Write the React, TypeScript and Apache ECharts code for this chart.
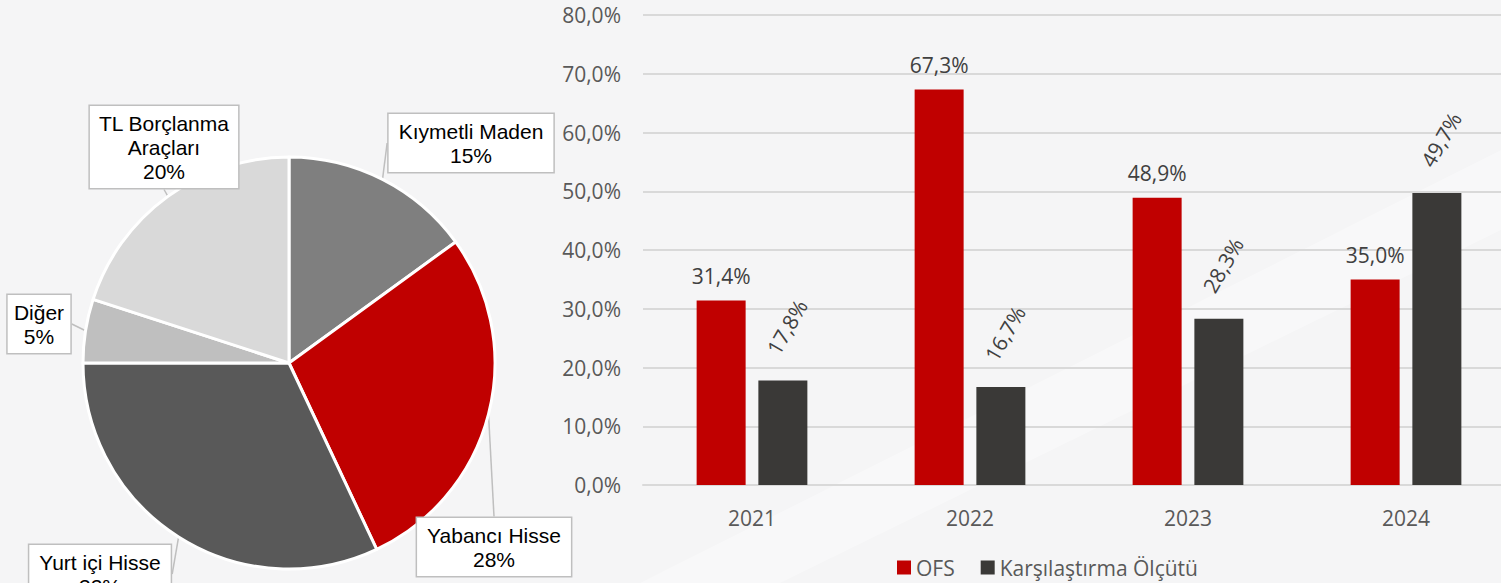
import React, { useEffect, useRef } from 'react';
import * as echarts from 'echarts';

// ---- data ----
const years = ['2021', '2022', '2023', '2024'];
const ofsValues = [31.4, 67.3, 48.9, 35.0];
const benchmarkValues = [17.8, 16.7, 28.3, 49.7];
const seriesNames = ['OFS', 'Karşılaştırma Ölçütü'];

const pieNames = ['Kıymetli Maden', 'Yabancı Hisse', 'Yurt içi Hisse', 'Diğer', 'TL Borçlanma\nAraçları'];
const pieValues = [15, 28, 32, 5, 20];

// ---- styles / layout ----
const pieColors = ['#7f7f7f', '#c00000', '#595959', '#bfbfbf', '#d9d9d9'];
const barColors = ['#c00000', '#3a3937'];
const pieLabelCenters: number[][] = [
  [471, 143],
  [494, 547],
  [100, 574],
  [39, 324],
  [164, 147],
];

const fmt = (v: number) => v.toFixed(1).replace('.', ',') + '%';

export default function App() {
  const ref = useRef<HTMLDivElement>(null);
  useEffect(() => {
    if (!ref.current) return;
    const chart = echarts.init(ref.current, undefined, { renderer: 'svg' });
    const barFont = 'Open Sans';
    chart.setOption({
      animation: false,
      backgroundColor: '#f5f5f6',
      graphic: [
        {
          type: 'polygon',
          silent: true,
          z: -10,
          shape: { points: [[640, 583], [1501, 150], [1501, 230], [780, 583]] },
          style: { fill: 'rgba(255,255,255,0.35)' },
        },
      ],
      grid: {
        left: 643,
        top: 15,
        width: 872,
        height: 470,
        containLabel: false,
        outerBoundsMode: 'none',
      },
      legend: {
        data: seriesNames,
        bottom: 0,
        left: 892,
        itemWidth: 14,
        itemHeight: 14,
        itemGap: 26,
        icon: 'rect',
        textStyle: { fontFamily: barFont, fontSize: 21, color: '#595959' },
      },
      xAxis: {
        type: 'category',
        data: years,
        axisLine: { show: true, lineStyle: { color: '#d9d9d9', width: 2 } },
        axisTick: { show: false },
        axisLabel: { margin: 22, fontFamily: barFont, fontSize: 21, color: '#595959' },
      },
      yAxis: {
        type: 'value',
        min: 0,
        max: 80,
        interval: 10,
        axisLine: { show: false },
        axisTick: { show: false },
        splitLine: { lineStyle: { color: '#d9d9d9', width: 2 } },
        axisLabel: {
          margin: 22,
          fontFamily: barFont,
          fontSize: 21,
          color: '#595959',
          formatter: (v: number) => fmt(v),
        },
      },
      series: [
        {
          name: seriesNames[0],
          type: 'bar',
          data: ofsValues,
          barWidth: 49,
          barGap: '26%',
          itemStyle: { color: barColors[0] },
          label: {
            show: true,
            position: 'top',
            distance: 14,
            fontFamily: barFont,
            fontSize: 21,
            color: '#404040',
            formatter: (p: any) => fmt(p.value),
          },
        },
        {
          name: seriesNames[1],
          type: 'bar',
          data: benchmarkValues,
          barWidth: 49,
          itemStyle: { color: barColors[1] },
          label: {
            show: true,
            position: [14, -28],
            rotate: 60,
            align: 'left',
            verticalAlign: 'middle',
            fontFamily: barFont,
            fontSize: 21,
            color: '#404040',
            formatter: (p: any) => fmt(p.value),
          },
        },
        {
          type: 'pie',
          center: [289, 363],
          radius: 206,
          startAngle: 90,
          clockwise: true,
          data: pieNames.map((n, i) => ({ name: n, value: pieValues[i], itemStyle: { color: pieColors[i] } })),
          itemStyle: { borderColor: '#ffffff', borderWidth: 3 },
          label: {
            show: true,
            position: 'outside',
            formatter: '{b}\n{c}%',
            fontFamily: 'Liberation Sans',
            fontSize: 21,
            lineHeight: 24,
            color: '#000000',
            align: 'center',
            overflow: 'none',
            backgroundColor: '#ffffff',
            borderColor: '#bfbfbf',
            borderWidth: 1.5,
            padding: [5, 10],
          },
          labelLine: { show: true, length: 8, length2: 0, lineStyle: { color: '#bfbfbf', width: 1.5 } },
          labelLayout: (params: any) => {
            const c = pieLabelCenters[params.dataIndex];
            return { x: c[0], y: c[1], align: 'center', verticalAlign: 'middle' };
          },
        },
      ],
    });
    return () => chart.dispose();
  }, []);
  return <div ref={ref} style={{ position: 'fixed', left: 0, top: 0, width: 1501, height: 583 }} />;
}
